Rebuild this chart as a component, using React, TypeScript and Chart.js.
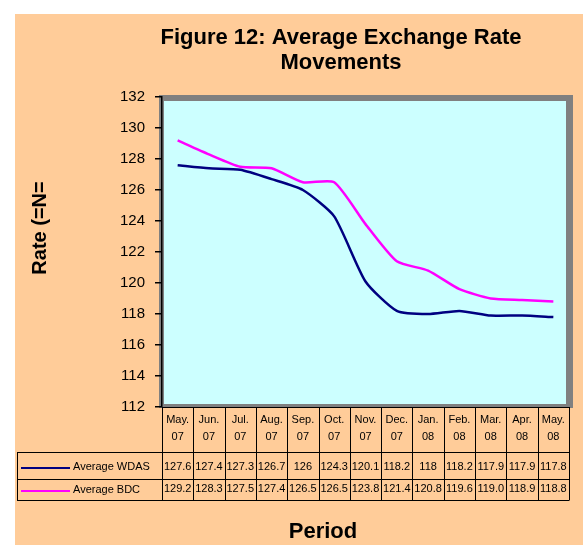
import React, { useEffect, useRef } from "react";
import { Chart, registerables } from "chart.js";

Chart.register(...registerables);

const months = ["May.", "Jun.", "Jul.", "Aug.", "Sep.", "Oct.", "Nov.", "Dec.", "Jan.", "Feb.", "Mar.", "Apr.", "May."];
const years = ["07", "07", "07", "07", "07", "07", "07", "07", "08", "08", "08", "08", "08"];
const wdas = [127.6, 127.4, 127.3, 126.7, 126, 124.3, 120.1, 118.2, 118, 118.2, 117.9, 117.9, 117.8];
const bdc = [129.2, 128.3, 127.5, 127.4, 126.5, 126.5, 123.8, 121.4, 120.8, 119.6, 119.0, 118.9, 118.8];
const seriesNames = ["Average WDAS", "Average BDC"];
const seriesColors = ["#000080", "#FF00FF"];
const titleLines = ["Figure 12: Average Exchange Rate", "Movements"];
const yTitle = "Rate (=N=";
const xTitle = "Period";

const FONT = "'Liberation Sans', Arial, sans-serif";

const decoPlugin = {
  id: "deco",
  beforeDraw(chart: any) {
    const { ctx, chartArea: a } = chart;
    ctx.save();
    ctx.fillStyle = "#FFCC99";
    ctx.fillRect(0, 0, chart.width, chart.height);
    ctx.fillStyle = "#808080";
    ctx.fillRect(a.left - 3, a.top - 2, a.right - a.left + 7, a.bottom - a.top + 3);
    ctx.fillStyle = "#CCFFFF";
    ctx.fillRect(a.left + 2, a.top + 4, a.right - a.left - 5, a.bottom - a.top - 7);
    ctx.restore();
  },
  afterDraw(chart: any) {
    const { ctx, chartArea: a } = chart;
    const xs = chart.scales.x;
    const n = months.length;
    const colW = (a.right - a.left) / n;
    ctx.save();
    // titles
    ctx.fillStyle = "#000";
    ctx.font = `bold 22px ${FONT}`;
    ctx.textAlign = "center";
    ctx.textBaseline = "alphabetic";
    ctx.fillText(titleLines[0], 326, 30);
    ctx.fillText(titleLines[1], 326, 55);
    ctx.fillText(xTitle, 308, 524);
    // y title
    ctx.save();
    ctx.translate(25, 214);
    ctx.rotate(-Math.PI / 2);
    ctx.font = `bold 20px ${FONT}`;
    ctx.textBaseline = "middle";
    ctx.fillText(yTitle, 0, 0);
    ctx.restore();

    // table geometry
    const top = a.bottom;
    const hdrBottom = top + 45;
    const row1Bottom = hdrBottom + 27;
    const row2Bottom = row1Bottom + 21;
    const legLeft = 2;

    ctx.strokeStyle = "#000";
    ctx.lineWidth = 1;
    ctx.beginPath();
    // horizontal lines
    ctx.moveTo(a.left, top + 0.5);
    ctx.lineTo(a.right, top + 0.5);
    for (const y of [hdrBottom, row1Bottom, row2Bottom]) {
      ctx.moveTo(legLeft, y + 0.5);
      ctx.lineTo(a.right, y + 0.5);
    }
    // vertical lines
    ctx.moveTo(legLeft + 0.5, hdrBottom);
    ctx.lineTo(legLeft + 0.5, row2Bottom);
    for (let i = 0; i <= n; i++) {
      const x = Math.round(xs.getPixelForValue(i) - colW / 2) + 0.5;
      ctx.moveTo(x, top);
      ctx.lineTo(x, row2Bottom + 0.5);
    }
    ctx.stroke();

    // header text
    ctx.font = `11px ${FONT}`;
    ctx.textAlign = "center";
    ctx.textBaseline = "middle";
    for (let i = 0; i < n; i++) {
      const cx = xs.getPixelForValue(i);
      ctx.fillText(months[i], cx, top + 13);
      ctx.fillText(years[i], cx, top + 30);
      ctx.fillText(String(wdas[i]), cx, hdrBottom + 15);
      ctx.fillText(bdc[i].toFixed(1), cx, row1Bottom + 10);
    }
    // legend keys
    const rowsY = [hdrBottom + 15, row1Bottom + 11];
    for (let s = 0; s < 2; s++) {
      ctx.strokeStyle = seriesColors[s];
      ctx.lineWidth = 2;
      ctx.beginPath();
      ctx.moveTo(6, rowsY[s] + 1);
      ctx.lineTo(55, rowsY[s] + 1);
      ctx.stroke();
      ctx.fillStyle = "#000";
      ctx.textAlign = "left";
      ctx.fillText(seriesNames[s], 58, rowsY[s]);
    }
    ctx.restore();
  },
};

export default function App() {
  const ref = useRef<HTMLCanvasElement>(null);
  useEffect(() => {
    if (!ref.current) return;
    const chart = new Chart(ref.current, {
      type: "line",
      data: {
        labels: months.map((m, i) => `${m} ${years[i]}`),
        datasets: [
          {
            label: seriesNames[0],
            data: wdas,
            borderColor: seriesColors[0],
            borderWidth: 2.5,
            pointRadius: 0,
            tension: 0.2,
            fill: false,
          },
          {
            label: seriesNames[1],
            data: bdc,
            borderColor: seriesColors[1],
            borderWidth: 2.5,
            pointRadius: 0,
            tension: 0.2,
            fill: false,
          },
        ],
      },
      options: {
        responsive: false,
        animation: false,
        layout: { padding: { left: 0, top: 83, right: 14, bottom: 138 } },
        plugins: {
          legend: { display: false },
          title: { display: false },
          tooltip: { enabled: false },
        },
        scales: {
          x: {
            type: "category",
            offset: true,
            display: false,
          },
          y: {
            min: 112,
            max: 132,
            afterFit: (scale: any) => {
              scale.width = 147;
            },
            ticks: {
              stepSize: 2,
              color: "#000",
              padding: 10,
              font: { family: FONT, size: 15 },
            },
            grid: {
              drawOnChartArea: false,
              drawTicks: true,
              tickLength: 7,
              color: "#000",
              lineWidth: 1.5,
            },
            border: { display: true, color: "#000", width: 1.5 },
          },
        },
      },
      plugins: [decoPlugin],
    });
    return () => chart.destroy();
  }, []);
  return (
    <div style={{ position: "absolute", left: 15, top: 14, width: 568, height: 531 }}>
      <canvas ref={ref} width={568} height={531} style={{ display: "block" }} />
    </div>
  );
}
